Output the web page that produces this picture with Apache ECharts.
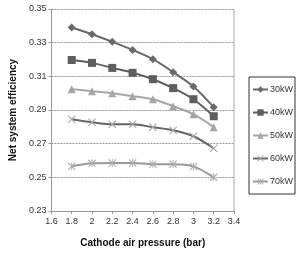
<!DOCTYPE html>
<html>
<head>
<meta charset="utf-8">
<script src="https://cdn.jsdelivr.net/npm/echarts@6/dist/echarts.min.js"></script>
<style>
  html, body { margin: 0; padding: 0; background: #fff; }
  #chart { width: 297px; height: 255px; }
</style>
</head>
<body>
<div id="chart"></div>
<script>
// 阴极空气压力 (bar)
var pressure = [1.8, 2.0, 2.2, 2.4, 2.6, 2.8, 3.0, 3.2];
var seriesNames = ['30kW', '40kW', '50kW', '60kW', '70kW'];
// 各功率下的净系统效率
var eff30 = [0.339, 0.335, 0.3305, 0.3257, 0.3202, 0.3125, 0.304, 0.2917];
var eff40 = [0.3197, 0.318, 0.315, 0.3121, 0.3083, 0.303, 0.2964, 0.2863];
var eff50 = [0.3024, 0.3012, 0.300, 0.2982, 0.2964, 0.2923, 0.2875, 0.2798];
var eff60 = [0.2845, 0.2827, 0.2815, 0.2815, 0.2798, 0.278, 0.2744, 0.2673];
var eff70 = [0.2566, 0.2583, 0.2585, 0.2585, 0.2578, 0.2578, 0.2565, 0.2500];

var font = '"Liberation Sans Narrow", "Liberation Sans", sans-serif';

// 叉号和星号标记
var crossPath = 'path://M0,1L1,0L5,4L9,0L10,1L6,5L10,9L9,10L5,6L1,10L0,9L4,5Z';
var starPath = 'path://M0,1L1,0L5,4L9,0L10,1L6,5L10,9L9,10L5,6L1,10L0,9L4,5Z M4.4,0L5.6,0L5.6,10L4.4,10Z';

function pairs(vals) {
  return vals.map(function (v, i) { return [pressure[i], v]; });
}

function makeSeries(name, vals, lineColor, symbol, symSize, symColor) {
  return {
    name: name,
    type: 'line',
    smooth: 0.3,
    data: pairs(vals),
    symbol: symbol,
    symbolSize: symSize,
    showAllSymbol: true,
    lineStyle: { color: lineColor, width: 2 },
    itemStyle: { color: symColor || lineColor },
    emphasis: { disabled: true }
  };
}

var myChart = echarts.init(document.getElementById('chart'));

var option = {
  animation: false,
  grid: { left: 36, right: 63, top: 9, bottom: 44, containLabel: false },
  legend: {
    orient: 'vertical',
    left: 249,
    top: 77,
    padding: [8, 2, 8, 3],
    itemGap: 14,
    itemWidth: 15,
    itemHeight: 8,
    borderColor: '#333',
    borderWidth: 1,
    textStyle: { fontFamily: font, fontSize: 9, color: '#333', padding: [0, 0, 0, -3] },
    data: seriesNames
  },
  xAxis: {
    type: 'value',
    min: 1.6,
    max: 3.4,
    interval: 0.2,
    name: 'Cathode air pressure (bar)',
    nameLocation: 'middle',
    nameGap: 27,
    nameTextStyle: { fontFamily: font, fontSize: 10, fontWeight: 'bold', color: '#111' },
    axisLine: { show: true, lineStyle: { color: '#999' } },
    axisTick: { show: true, length: 3, lineStyle: { color: '#999' } },
    axisLabel: {
      fontFamily: font, fontSize: 9, color: '#333', margin: 6,
      formatter: function (v) { return String(Math.round(v * 10) / 10); }
    },
    splitLine: { show: false }
  },
  yAxis: {
    type: 'value',
    min: 0.23,
    max: 0.35,
    interval: 0.02,
    name: 'Net system efficiency',
    nameLocation: 'middle',
    nameGap: 30,
    nameTextStyle: { fontFamily: font, fontSize: 10, fontWeight: 'bold', color: '#111' },
    axisLine: { show: true, lineStyle: { color: '#999' } },
    axisTick: { show: true, length: 3, lineStyle: { color: '#999' } },
    axisLabel: {
      fontFamily: font, fontSize: 9, color: '#333', margin: 5,
      formatter: function (v) { return v.toFixed(2); }
    },
    splitLine: { show: true, lineStyle: { color: '#999', type: [2, 1], width: 1 } }
  },
  series: [
    makeSeries('30kW', eff30, '#6a6a6a', 'diamond', 8),
    makeSeries('40kW', eff40, '#5e5e5e', 'rect', 8),
    makeSeries('50kW', eff50, '#a6a6a6', 'triangle', 8),
    makeSeries('60kW', eff60, '#666666', crossPath, 8, '#aaaaaa'),
    makeSeries('70kW', eff70, '#999999', starPath, 8, '#b0b0b0'),
    // 右侧边框
    {
      type: 'line',
      silent: true,
      symbol: 'none',
      data: [[3.4, 0.23], [3.4, 0.35]],
      lineStyle: { color: '#aaa', width: 1 },
      tooltip: { show: false }
    }
  ]
};

myChart.setOption(option);
</script>
</body>
</html>
